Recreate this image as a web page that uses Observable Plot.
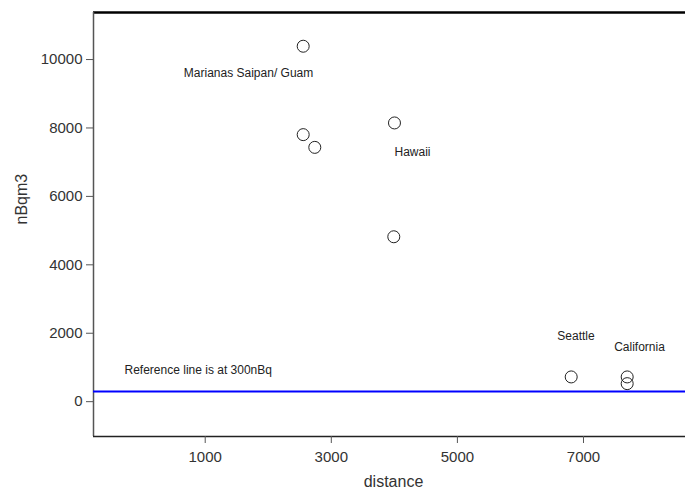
<!DOCTYPE html>
<html>
<head>
<meta charset="utf-8">
<script src="https://cdn.jsdelivr.net/npm/d3@7"></script>
<script src="https://cdn.jsdelivr.net/npm/@observablehq/plot@0.6"></script>
<style>
  html, body { margin: 0; padding: 0; background: #fff; }
</style>
</head>
<body>
<div id="chart"></div>
<script>
// Data
const distance = [2554, 2554, 2738, 4002, 3991, 6805, 7693, 7693];
const nBqm3 = [10389, 7805, 7433, 8147, 4820, 723, 723, 527];

const labelText = ["Marianas Saipan/ Guam", "Hawaii", "Seattle", "California"];
const labelX = [1687, 4288, 6881, 7888];
const labelY = [9611, 7287, 1923, 1601];

const refText = ["Reference line is at 300nBq"];
const refTextX = [-280];
const refTextY = [934];
const refLine = [300];

const xTicks = [1000, 3000, 5000, 7000];
const yTicks = [0, 2000, 4000, 6000, 8000, 10000];
const xDomain = [-772, 8618];
const yDomain = [-1018, 11375];

const points = distance.map((d, i) => ({distance: d, nBqm3: nBqm3[i]}));
const labels = labelText.map((t, i) => ({text: t, x: labelX[i], y: labelY[i]}));
const refLabels = refText.map((t, i) => ({text: t, x: refTextX[i], y: refTextY[i]}));

const chart = Plot.plot({
  width: 685,
  height: 494,
  marginLeft: 93,
  marginRight: 0,
  marginTop: 12,
  marginBottom: 58,
  style: {fontFamily: "'Liberation Sans', Arial, sans-serif", fontSize: "15px", color: "#333", background: "#fff"},
  x: {domain: xDomain},
  y: {domain: yDomain},
  marks: [
    Plot.ruleY([yDomain[1]], {stroke: "#000", strokeWidth: 2.5}),
    Plot.ruleX([xDomain[0]], {stroke: "#555", strokeWidth: 1.5}),
    Plot.ruleY([yDomain[0]], {stroke: "#222", strokeWidth: 1.5}),
    Plot.axisX({ticks: xTicks, tickSize: 7, tickPadding: 8, label: null, fontSize: 15, tickFormat: d => String(d), stroke: "#555"}),
    Plot.axisY({ticks: yTicks, tickSize: 7, tickPadding: 4, label: null, fontSize: 15, tickFormat: d => String(d), stroke: "#555"}),
    Plot.ruleY(refLine, {stroke: "#0000ff", strokeWidth: 2}),
    Plot.dot(points, {x: "distance", y: "nBqm3", r: 6, stroke: "#222", strokeWidth: 1, fill: "none"}),
    Plot.text(labels, {x: "x", y: "y", text: "text", fontSize: 12, fill: "#222"}),
    Plot.text(refLabels, {x: "x", y: "y", text: "text", fontSize: 12, fill: "#222", textAnchor: "start"}),
    Plot.text(["distance"], {frameAnchor: "bottom", dy: 50, dx: 4, fontSize: 16, fill: "#333"}),
    Plot.text(["nBqm3"], {frameAnchor: "left", rotate: -90, dx: -72, fontSize: 16, fill: "#333"})
  ]
});
document.getElementById("chart").appendChild(chart);
</script>
</body>
</html>
